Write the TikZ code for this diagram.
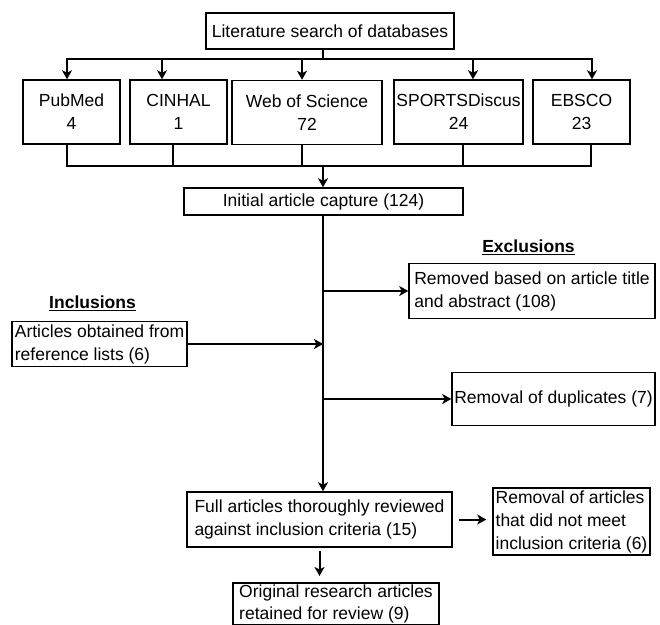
\documentclass[tikz,border=0pt]{standalone}
\usepackage{fontspec}
\setmainfont{Liberation Sans}
\usetikzlibrary{arrows.meta,positioning}

\begin{document}
\begin{tikzpicture}[x=1pt,y=-1pt,every node/.style={font=\fontsize{17.5}{23}\selectfont,align=center}]
\tikzset{
  flowbox/.style={draw,line width=1.5pt,inner sep=1pt},
  dbbox/.style={flowbox,inner sep=0pt,minimum width=#1,minimum height=64pt},
  heading/.style={font=\fontsize{17.5}{23}\selectfont\bfseries},
  conn/.style={line width=2pt},
  arr/.style={conn,-{Stealth[length=9pt,width=10pt,inset=2.5pt]}}
}
\useasboundingbox (0,0) rectangle (660,624);
% search and databases
\node[flowbox,minimum width=248pt,minimum height=36pt] (lit) at (330,31) {Literature search of databases};
\node[dbbox=97pt] (pubmed) at (71.5,112) {PubMed\\4};
\node[dbbox=97pt] (cinhal) at (178.5,112) {CINHAL\\1};
\node[dbbox=150pt] (wos) at (307,112.5) {Web of Science\\72};
\node[dbbox=129pt] (sport) at (458.5,112) {SPORTSDiscus\\24};
\node[dbbox=97pt] (ebsco) at (581.5,112) {EBSCO\\23};
\node[flowbox,minimum width=279pt,minimum height=27pt] (capture) at (323.5,201.5) {Initial article capture (124)};
% inclusions / exclusions
\node[heading] (exlab) at (528.5,247) {\underline{Exclusions}};
\node[flowbox,align=left,minimum width=246pt,minimum height=55pt] (title) at (532,291) {Removed based on article title\\and abstract (108)};
\node[heading] (inlab) at (92.5,303) {\underline{Inclusions}};
\node[flowbox,align=left,minimum width=175pt,minimum height=45pt] (reflist) at (99.5,344) {Articles obtained from\\reference lists (6)};
\node[flowbox,minimum width=203pt,minimum height=53pt] (dups) at (553.5,399) {Removal of duplicates (7)};
% full text stage
\node[flowbox,align=left,minimum width=265pt,minimum height=55pt] (fulltext) at (319.5,519.5) {Full articles thoroughly reviewed\\against inclusion criteria (15)};
\node[flowbox,align=left,minimum width=157pt,minimum height=67pt] (unmet) at (571.5,521.5) {Removal of articles\\that did not meet\\inclusion criteria (6)};
\node[flowbox,align=left,minimum width=206pt,minimum height=42pt,anchor=north,font=\fontsize{17.5}{22}\selectfont] (kept) at (336,582) {Original research articles\\retained for review (9)};

\coordinate (split) at (323,59);
\coordinate (merge) at (323,166);
\foreach \b/\xin/\xout in {pubmed/67/67,cinhal/162/173,wos/302/302,sport/473/463,ebsco/592/591}{
  \coordinate (\b-in) at (\xin,59);
  \coordinate (\b-out) at (\xout,166);
  \draw[arr] (\b-in) -- (\b-in |- \b.north);
  \draw[conn] (\b-out |- \b.south) -- (\b-out);
}
\draw[conn] (split |- lit.south) -- (split);
\draw[conn,line cap=rect] (pubmed-in) -- (ebsco-in);
\draw[conn,line cap=rect] (pubmed-out) -- (ebsco-out);
\draw[arr] (merge) -- (merge |- capture.north);
\draw[arr] (merge |- capture.south) -- (merge |- fulltext.north);
\draw[arr] (merge |- title.west) -- (title.west);
\draw[arr] (merge |- dups.west) -- (dups.west);
\draw[arr] (reflist.east) -- (merge |- reflist.east);
\draw[arr,shorten <=6pt,shorten >=6pt] (fulltext.east) -- (fulltext.east -| unmet.west);
\draw[arr,shorten <=3pt,shorten >=6pt] (fulltext.south) -- (fulltext.south |- kept.north);
\end{tikzpicture}
\end{document}
